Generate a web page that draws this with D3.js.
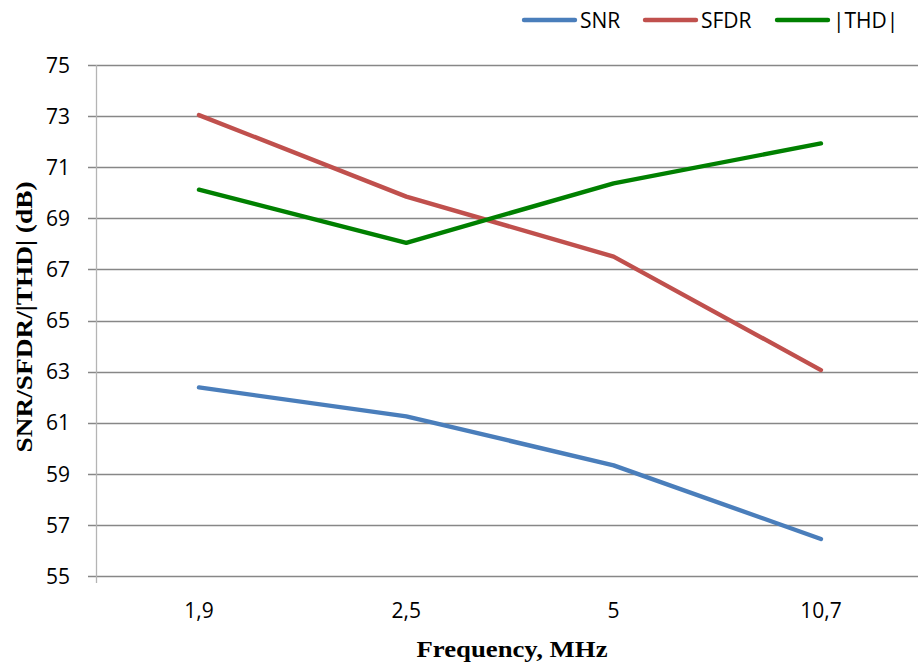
<!DOCTYPE html>
<html>
<head>
<meta charset="utf-8">
<script src="https://cdn.jsdelivr.net/npm/d3@7"></script>
<style>
  body { margin: 0; background: #fff; }
  svg { display: block; }
</style>
</head>
<body>
<svg id="chart" width="918" height="668"></svg>
<script>
// Frequencies (MHz) on the category axis
const categories = ["1,9", "2,5", "5", "10,7"];
// Measured dynamic performance, dB
const snr  = [62.38, 61.25, 59.33, 56.45];
const sfdr = [73.04, 69.85, 67.5, 63.06];
const thd  = [70.12, 68.04, 70.37, 71.93];
const yTicks = [55, 57, 59, 61, 63, 65, 67, 69, 71, 73, 75];

const seriesNames = ["SNR", "SFDR", "|THD|"];
const seriesColors = ["#4a7ebb", "#c0504d", "#008000"];
const seriesValues = [snr, sfdr, thd];

const svg = d3.select("#chart");
const plotLeft = 96, plotTop = 65, plotBottom = 576;

const x = d3.scalePoint().domain(categories).range([95.3, 924.6]).padding(0.5);
const y = d3.scaleLinear().domain([55, 75]).range([plotBottom, plotTop]);

const tickFont = "'Open Sans', 'Liberation Sans', sans-serif";
const titleFont = "'Liberation Serif', 'Times New Roman', serif";

// Horizontal gridlines
svg.append("g")
  .selectAll("line")
  .data(yTicks)
  .join("line")
  .attr("x1", plotLeft - 8).attr("x2", 918)
  .attr("y1", d => Math.round(y(d)) + 0.5)
  .attr("y2", d => Math.round(y(d)) + 0.5)
  .attr("stroke", "#878787")
  .attr("stroke-width", 1.3);

// Vertical axis line
svg.append("line")
  .attr("x1", plotLeft + 0.5).attr("x2", plotLeft + 0.5)
  .attr("y1", plotTop).attr("y2", plotBottom + 7)
  .attr("stroke", "#b4b4b4")
  .attr("stroke-width", 1.3);

// Y tick labels
svg.append("g")
  .selectAll("text")
  .data(yTicks)
  .join("text")
  .attr("x", 70)
  .attr("y", d => y(d))
  .attr("dy", "0.37em")
  .attr("text-anchor", "end")
  .attr("font-family", tickFont)
  .attr("font-size", 21)
  .attr("fill", "#000")
  .text(d => d);

// X tick labels
svg.append("g")
  .selectAll("text")
  .data(categories)
  .join("text")
  .attr("x", d => x(d))
  .attr("y", 617.5)
  .attr("text-anchor", "middle")
  .attr("font-family", tickFont)
  .attr("font-size", 21)
  .attr("fill", "#000")
  .text(d => d);

// Axis titles
svg.append("text")
  .attr("x", 512)
  .attr("y", 657)
  .attr("text-anchor", "middle")
  .attr("font-family", titleFont)
  .attr("font-weight", "bold")
  .attr("font-size", 22.5)
  .attr("textLength", 191)
  .attr("lengthAdjust", "spacingAndGlyphs")
  .text("Frequency, MHz");

svg.append("text")
  .attr("transform", "translate(32,317) rotate(-90)")
  .attr("text-anchor", "middle")
  .attr("font-family", titleFont)
  .attr("font-weight", "bold")
  .attr("font-size", 22.5)
  .attr("textLength", 271)
  .attr("lengthAdjust", "spacingAndGlyphs")
  .text("SNR/SFDR/|THD| (dB)");

// Series lines
const line = d3.line()
  .x((d, i) => x(categories[i]))
  .y(d => y(d));

svg.append("g")
  .selectAll("path")
  .data(seriesValues)
  .join("path")
  .attr("d", d => line(d))
  .attr("fill", "none")
  .attr("stroke", (d, i) => seriesColors[i])
  .attr("stroke-width", 4.4)
  .attr("stroke-linecap", "round")
  .attr("stroke-linejoin", "round");

// Legend
const legendX = [524, 645, 777];
const legend = svg.append("g")
  .selectAll("g")
  .data(seriesNames)
  .join("g")
  .attr("transform", (d, i) => `translate(${legendX[i]},20)`);

legend.append("line")
  .attr("x1", 0).attr("x2", 51)
  .attr("y1", 0).attr("y2", 0)
  .attr("stroke", (d, i) => seriesColors[i])
  .attr("stroke-width", 4.4)
  .attr("stroke-linecap", "round");

legend.append("text")
  .attr("x", 56)
  .attr("y", 0)
  .attr("dy", "0.36em")
  .attr("font-family", tickFont)
  .attr("font-size", 21)
  .attr("fill", "#000")
  .text(d => d);
</script>
</body>
</html>
